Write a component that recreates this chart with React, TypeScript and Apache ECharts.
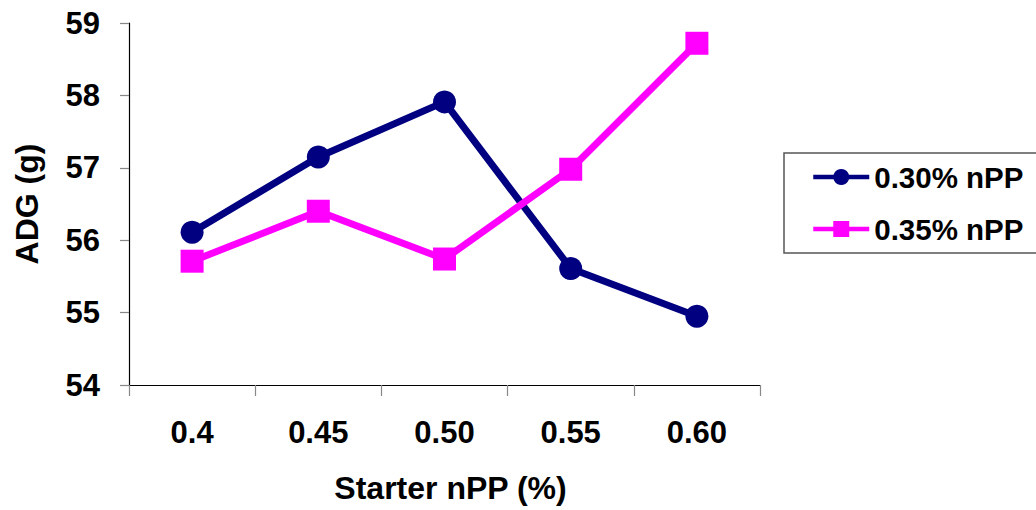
import React, { useEffect, useRef } from "react";
import * as echarts from "echarts";

// Starter nPP levels (x-axis categories)
const categories = ["0.4", "0.45", "0.50", "0.55", "0.60"];
// Average daily gain (g) for each grower nPP level
const adg030 = [56.11, 57.15, 57.91, 55.61, 54.95];
const adg035 = [55.71, 56.4, 55.74, 56.98, 58.72];
const seriesNames = ["0.30% nPP", "0.35% nPP"];

const FONT = '"Liberation Sans", Arial, sans-serif';

export default function App() {
  const ref = useRef<HTMLDivElement>(null);

  useEffect(() => {
    if (!ref.current) return;
    const chart = echarts.init(ref.current, undefined, { renderer: "svg" });
    chart.setOption({
      animation: false,
      backgroundColor: "#ffffff",
      textStyle: { fontFamily: FONT },
      grid: { left: 129, top: 23, right: 276, bottom: 125, containLabel: false },
      legend: {
        orient: "vertical",
        left: 784,
        top: 153,
        padding: [9, 16, 9, 27],
        itemWidth: 56,
        itemHeight: 20,
        itemGap: 22,
        borderColor: "#555555",
        borderWidth: 1.5,
        lineStyle: { width: 4.5 },
        textStyle: { fontSize: 29.5, fontWeight: "bold", color: "#000", fontFamily: FONT },
        data: seriesNames,
      },
      xAxis: {
        type: "category",
        data: categories,
        boundaryGap: true,
        name: "Starter nPP (%)",
        nameLocation: "middle",
        nameGap: 87,
        nameTextStyle: { fontSize: 32, fontWeight: "bold", color: "#000", fontFamily: FONT, padding: [0, 0, 0, 12] },
        axisLine: { lineStyle: { color: "#000", width: 1.2 } },
        axisTick: { show: true, length: 11, lineStyle: { color: "#888", width: 1.2 } },
        axisLabel: { margin: 32, fontSize: 31, fontWeight: "bold", color: "#000", fontFamily: FONT },
        splitLine: { show: false },
      },
      yAxis: {
        type: "value",
        min: 54,
        max: 59,
        interval: 1,
        name: "ADG (g)",
        nameLocation: "middle",
        nameRotate: 90,
        nameGap: 86,
        nameTextStyle: { fontSize: 32, fontWeight: "bold", color: "#000", fontFamily: FONT },
        axisLine: { show: true, lineStyle: { color: "#000", width: 1.2 } },
        axisTick: { show: true, length: 9, lineStyle: { color: "#888", width: 1.2 } },
        axisLabel: { margin: 29, fontSize: 31, fontWeight: "bold", color: "#000", fontFamily: FONT },
        splitLine: { show: false },
      },
      series: [
        {
          name: seriesNames[0],
          type: "line",
          data: adg030,
          symbol: "circle",
          symbolSize: 23,
          color: "#000080",
          lineStyle: { color: "#000080", width: 7 },
          itemStyle: { color: "#000080" },
        },
        {
          name: seriesNames[1],
          type: "line",
          data: adg035,
          symbol: "rect",
          symbolSize: 23,
          color: "#ff00ff",
          lineStyle: { color: "#ff00ff", width: 7 },
          itemStyle: { color: "#ff00ff" },
        },
      ],
    });
    return () => chart.dispose();
  }, []);

  return (
    <div
      ref={ref}
      style={{ position: "fixed", left: 0, top: 0, width: 1036, height: 510, background: "#fff" }}
    />
  );
}
